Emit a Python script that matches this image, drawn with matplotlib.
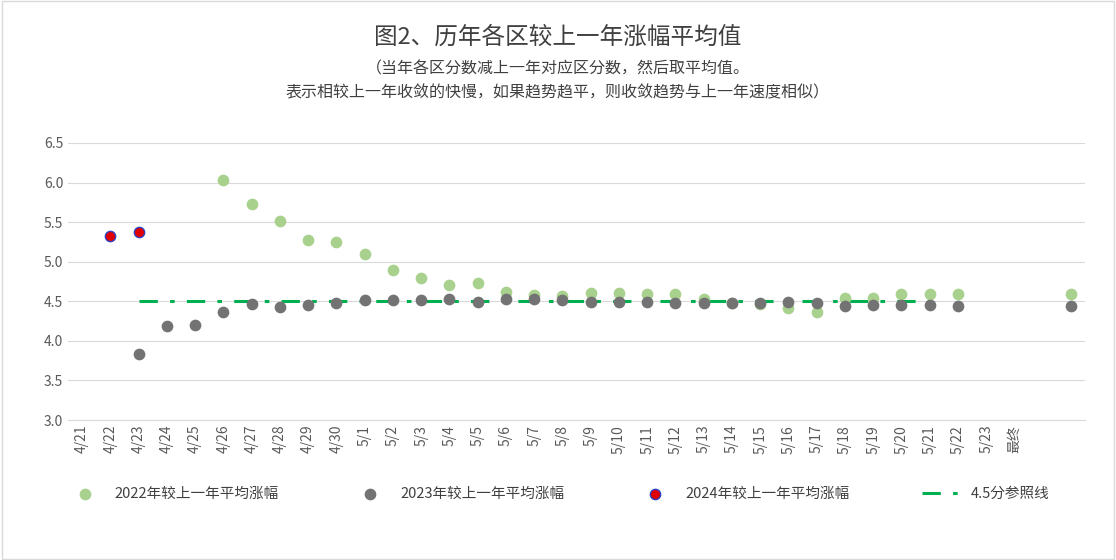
import matplotlib
matplotlib.use("Agg")
import matplotlib.pyplot as plt
from matplotlib import font_manager
import numpy as np

cjk = [f.name for f in font_manager.fontManager.ttflist if "CJK" in f.name]
pref = [n for n in ["Noto Sans CJK SC", "Noto Sans CJK JP", "Noto Sans CJK TC", "Noto Sans CJK KR"] if n in cjk] + cjk
plt.rcParams['font.family'] = (pref[:1] if pref else []) + ['DejaVu Sans']

days = [f"4/{d}" for d in range(21, 31)] + [f"5/{d}" for d in range(1, 24)]
categories = days + ["最终", "", ""]
idx = {c: i for i, c in enumerate(categories) if c}
FINAL = 35

y2022_days = [f"4/{d}" for d in range(26, 31)] + [f"5/{d}" for d in range(1, 23)]
y2022 = [6.03, 5.73, 5.51, 5.27, 5.25, 5.10, 4.90, 4.80, 4.70, 4.73, 4.62, 4.58, 4.57, 4.60,
         4.60, 4.59, 4.59, 4.53, 4.48, 4.46, 4.41, 4.37, 4.54, 4.54, 4.59, 4.59, 4.59]
y2022_final = 4.59
y2023_days = [f"4/{d}" for d in range(23, 31)] + [f"5/{d}" for d in range(1, 23)]
y2023 = [3.84, 4.19, 4.20, 4.37, 4.47, 4.43, 4.45, 4.48, 4.51, 4.52, 4.52, 4.53, 4.49, 4.53,
         4.53, 4.52, 4.49, 4.49, 4.49, 4.48, 4.48, 4.48, 4.48, 4.49, 4.48, 4.44, 4.45, 4.45, 4.45, 4.44]
y2023_final = 4.44
y2024_days = ["4/22", "4/23"]
y2024 = [5.33, 5.38]
ref_start, ref_end, ref_val = "4/23", "5/21", 4.5

H = 560
fig = plt.figure(figsize=(11.16, 5.6), dpi=100)
ax = fig.add_axes([68/1116, 1 - 420/H, 1017/1116, 277/H])
ax.set_xlim(-0.5, len(categories) - 0.5)
ax.set_ylim(3.0, 6.5)
ax.set_yticks(np.arange(3.0, 6.51, 0.5))
ax.set_yticklabels([f"{v:.1f}" for v in np.arange(3.0, 6.51, 0.5)], fontsize=10, color="#595959")
ax.grid(axis='y', color="#d9d9d9", lw=0.8)
ax.set_axisbelow(True)
for s in ['top', 'right', 'left']:
    ax.spines[s].set_visible(False)
ax.spines['bottom'].set_color("#d9d9d9")
ax.tick_params(length=0)
ax.set_xticks(range(len(categories)))
ax.set_xticklabels(categories, rotation=90, fontsize=10, color="#595959")

ax.plot([idx[ref_start], idx[ref_end]], [ref_val, ref_val], color="#00b050", lw=2.2,
        dashes=[6, 4, 1.5, 4], label="4.5分参照线", zorder=1)
ax.scatter([idx[d] for d in y2022_days] + [FINAL], y2022 + [y2022_final], s=55,
           color="#a9d18e", label="2022年较上一年平均涨幅", zorder=3)
ax.scatter([idx[d] for d in y2023_days] + [FINAL], y2023 + [y2023_final], s=55,
           color="#737373", label="2023年较上一年平均涨幅", zorder=3)
ax.scatter([idx[d] for d in y2024_days], y2024, s=55, color="#e00000",
           edgecolors="#2f3fbf", linewidths=1, label="2024年较上一年平均涨幅", zorder=4)

h, l = ax.get_legend_handles_labels()
order = [1, 2, 3, 0]
fig.legend([h[i] for i in order], [l[i] for i in order], loc="center", bbox_to_anchor=(0.5, 1 - 494/H),
           ncol=4, frameon=False, fontsize=10.5, columnspacing=5, handlelength=2.5,
           labelcolor="#404040")

fig.text(0.5, 1 - 37/H, "图2、历年各区较上一年涨幅平均值", ha="center", va="center", fontsize=17, color="#404040")
fig.text(0.5, 1 - 69/H, "（当年各区分数减上一年对应区分数，然后取平均值。", ha="center", va="center", fontsize=11.5, color="#404040")
fig.text(0.5, 1 - 93/H, "表示相较上一年收敛的快慢，如果趋势趋平，则收敛趋势与上一年速度相似）", ha="center", va="center", fontsize=11.5, color="#404040")
fig.add_artist(plt.Rectangle((0.002, 0.002), 0.996, 0.996, transform=fig.transFigure, fill=False, ec="#d9d9d9", lw=1))
fig.savefig("out.png")
